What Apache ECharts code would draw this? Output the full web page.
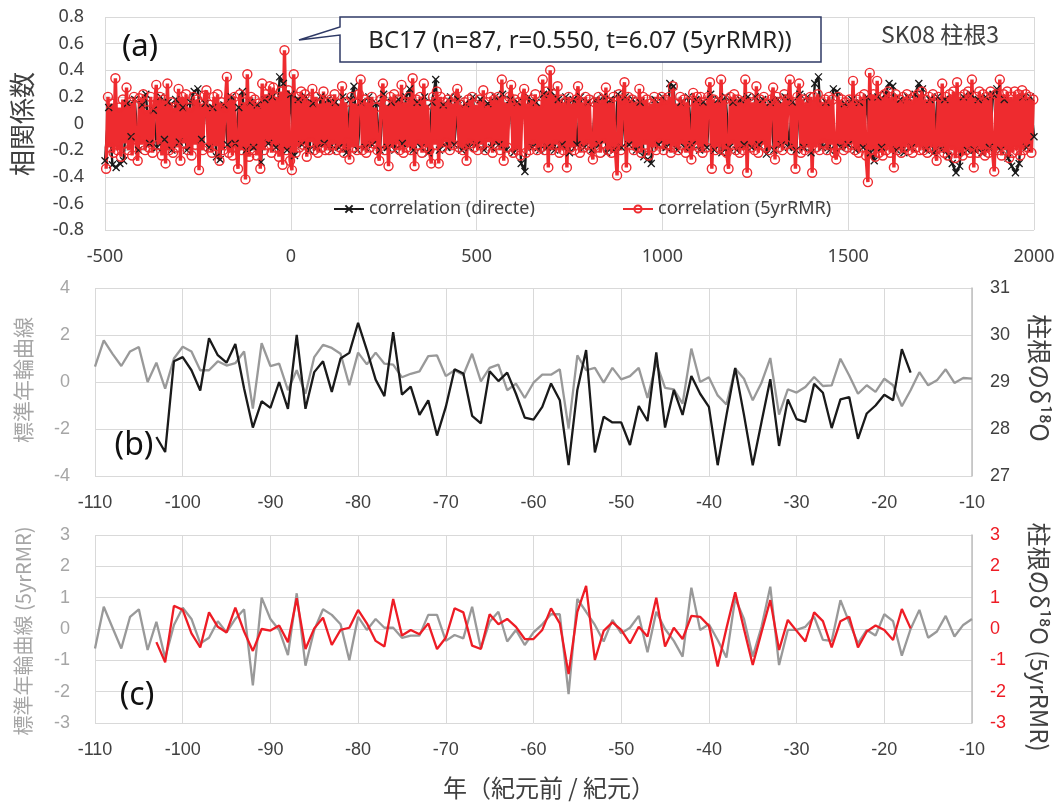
<!DOCTYPE html>
<html>
<head>
<meta charset="utf-8">
<script src="https://cdn.jsdelivr.net/npm/echarts@6/dist/echarts.min.js"></script>
<style>
  html, body { margin: 0; padding: 0; background: #fff; }
  #chart { width: 1059px; height: 805px; }
</style>
</head>
<body>
<div id="chart"></div>
<script>
// ---- (a) sliding correlation, SK08 柱根3 ----
// 5yrRMR correlation, every 5 years starting at -497
const rmrStartYear = -497;
const rmrStepYears = 5;
const corrRmr = [
  -.34, .2, -.18, .15, -.22, .34, -.2, .12, -.25, .18, -.15, .27, -.2, .16, -.24, .2, -.12, -.28, .19, -.16,   // -497 .. -402
  .22, -.2, .1, -.18, .2, -.22, .14, .29, -.16, .2, -.24, .18, -.3, .3, -.2, .16, -.22, .12, -.18, .26,        // -397 .. -302
  -.28, .2, -.15, .22, -.2, .12, -.24, .2, -.16, .18, -.35, .15, -.2, .21, .25, -.18, .14, -.22, .2, -.17,     // -297 .. -202
  .22, -.28, .16, -.2, .12, .35, -.22, .18, -.24, .2, -.18, -.34, .22, -.2, .16, -.42, .37, -.25, .2, -.2,     // -197 .. -102
  .18, -.24, .15, -.34, .3, -.2, .22, -.16, .28, -.22, .27, -.18, .2, -.25, .24, -.31, .55, -.2, .25, -.28,    // -97 .. -2
  -.35, .37, -.22, .2, -.18, .24, -.16, .22, -.25, .18, -.14, .26, -.2, .2, -.22, .15, -.18, .24, -.2, .16,    // 3 .. 98
  -.2, .18, -.16, .22, -.2, .15, -.18, .28, -.22, .16, -.14, -.27, .2, -.18, .15, -.2, .22, .33, -.2, .18,     // 103 .. 198
  -.22, .16, -.18, .2, -.15, .12, -.2, -.28, .18, .3, -.2, .14, -.32, .2, -.18, .22, -.16, .18, -.2, .29,      // 203 .. 298
  -.22, .16, -.18, .2, -.2, .34, -.32, .18, -.16, .2, -.22, .3, -.18, .14, -.2, -.3, .2, -.16, .24, -.3,       // 303 .. 398
  .2, -.18, .16, -.14, .18, -.2, .15, -.16, .2, .26, -.18, .14, -.2, .16, -.28, .18, -.15, .2, -.18, .14,      // 403 .. 498
  -.2, .18, -.16, .25, -.2, .16, -.14, .2, -.22, .18, -.16, .2, -.2, .33, -.28, .16, -.18, .2, .29, -.22,      // 503 .. 598
  .18, -.2, .16, -.24, .2, .26, -.22, .15, -.2, .18, -.16, .22, -.2, .14, -.18, .33, -.2, .24, -.33, .4,      // 603 .. 698
  -.2, .22, -.16, .28, -.22, .18, -.2, .16, -.33, .2, -.18, .15, -.2, .18, .28, -.22, .16, -.18, .2, -.16,     // 703 .. 798
  .18, -.2, -.27, .16, -.18, .2, -.22, .18, -.15, .27, -.2, .16, -.22, .2, -.18, -.39, .22, -.2, .18, .31,     // 803 .. 898
  -.33, .2, -.16, .18, -.2, .16, -.18, .26, -.22, .2, -.16, .18, -.24, .15, -.18, .2, -.2, .16, -.15, .2,      // 903 .. 998
  -.2, .18, -.16, .2, -.22, .28, -.18, .15, -.2, .2, -.16, .18, -.22, .16, -.18, -.27, .23, -.16, .2, -.18,    // 1003 .. 1098
  .2, -.22, .16, -.18, .2, .31, -.34, .18, -.2, .16, -.18, .33, -.2, .18, -.22, -.34, .2, -.16, .22, -.2,      // 1103 .. 1198
  .18, -.22, .16, -.2, .33, -.37, .2, -.18, .16, -.2, .28, -.22, .18, -.16, .2, -.18, .15, -.2, .18, .27,      // 1203 .. 1298
  -.27, .2, -.18, .16, -.2, .22, -.16, .18, .33, -.2, .16, -.34, .2, .3, -.22, .18, -.2, .16, -.18, .2,        // 1303 .. 1398
  -.37, .2, -.18, .22, -.2, .16, -.15, .18, -.2, .2, -.16, .18, -.22, -.27, .2, -.16, .18, -.2, .16, -.18,     // 1403 .. 1498
  .18, -.16, .32, -.2, .18, -.22, .2, -.18, .22, -.24, -.44, .38, -.2, .22, -.25, .32, -.22, .2, -.24, .22,    // 1503 .. 1598
  -.2, .24, -.22, .2, -.33, .22, -.2, .18, -.22, .2, -.18, .22, -.2, .18, -.22, .2, -.18, .22, -.2, .24,       // 1603 .. 1698
  -.2, .18, -.22, .2, -.18, .22, -.2, -.28, .2, -.18, .3, -.22, .2, -.24, .22, -.2, .24, -.26, .31, -.22,      // 1703 .. 1798
  .2, -.24, .22, -.2, .24, -.22, .33, -.33, .2, -.22, .24, -.2, .22, -.24, .2, -.22, .24, -.2, -.36, .22,      // 1803 .. 1898
  -.2, .33, -.24, .22, -.2, .24, -.26, .2, -.22, .24, -.2, .22, -.24, .25, -.2, .22, -.18, .2, -.22, .18       // 1903 .. 1998
];

// direct correlation, every 10 years starting at -500
const directStartYear = -500;
const directStepYears = 10;
const corrDirect = [
  -.28, .12, -.31, -.33, -.3, -.28, .15, -.1, .18, -.2, .14, .22, -.15, .1, -.18, .2, -.12, .16, -.2, .18, -.14, .12, -.2, .16, .24,   // -500 .. -260
  .26, -.12, .15, -.18, .12, -.25, -.27, .14, -.16, .2, -.15, .12, .24, -.2, .16, -.18, .14, -.29, .18, -.15, .2, -.18, .35, .3, -.2,  // -250 .. -10
  .22, -.24, .18, -.16, .2, -.2, .15, -.18, .2, -.15, .18, -.2, .16, -.18, .2, -.22, .18, .28, -.2, .16, -.18, .2, -.16, .15, -.2,      // 0 .. 240
  .22, -.18, .16, -.2, .18, -.15, .2, .26, -.2, .16, -.18, .2, -.22, .16, .33, -.2, .14, -.18, .2, -.16, .18, -.2, .15, -.18, .2,       // 250 .. 490
  -.16, .18, -.2, .15, -.18, .2, -.16, .22, -.2, .18, -.22, .16, -.3, -.36, .2, -.18, .16, -.2, .22, -.18, .24, -.2, .18, -.16, .2,     // 500 .. 740
  -.22, .18, -.16, .2, -.18, .16, -.2, .18, -.16, .2, -.22, .18, -.2, .22, -.18, .2, -.16, .18, -.2, .16, -.25, -.27, -.3, .18, -.16,  // 750 .. 990
  .2, -.18, .3, .28, -.2, .16, -.18, .2, -.16, .18, -.2, .16, -.18, .22, -.2, .18, -.22, .2, -.18, .16, -.2, .18, -.16, .2, -.18,       // 1000 .. 1240
  .2, -.16, .18, -.23, .16, -.2, .18, -.16, .2, -.18, .16, -.2, .22, -.18, .2, -.22, .3, .35, -.18, .16, -.2, .26, .24, -.18, .15,      // 1250 .. 1490
  -.16, .18, -.2, .16, -.18, .2, -.22, -.28, .2, -.18, .22, .3, .28, -.2, .18, -.22, .2, -.18, .22, .3, .26, -.2, .18, -.22, .2,        // 1500 .. 1740
  -.2, .18, -.24, -.3, -.37, -.32, .2, -.2, .22, -.2, .18, -.22, .2, -.18, .22, .26, -.2, .18, -.26, -.32, -.37, -.3, .2, -.18, .2,     // 1750 .. 1990
  -.1                                                                                                                                  // 2000
];

// ---- (b), (c) ring-width index vs. δ18O, 110 BC – 10 BC ----
const ringStartYear = -110;            // 標準年輪曲線, one value per year to -10
const isoStartYear = -103;             // 柱根のδ18O, one value per year to -17 (n = 87)

const ringStd = [
  .65, 1.77, 1.2, .68, 1.3, 1.49, 0, .82, -.28, 1.0,          // -110 .. -101
  1.5, 1.3, .5, .5, .88, .7, .8, 1.3, -1.13, 1.65,            // -100 .. -91
  .68, .78, -.35, .5, -.5, 1.06, 1.58, 1.45, 1.2, -.14,       // -90 .. -81
  1.25, .75, 1.25, .78, .74, .2, .35, .45, 1.1, 1.13,         // -80 .. -71
  .25, .5, .3, 1.2, .03, .6, .74, -.35, -.07, -.68,           // -70 .. -61
  -.03, .31, .31, .54, -1.98, 1.13, .5, .6, -.03, .6,         // -60 .. -51
  .11, .25, .6, -.68, .82, -.25, -.31, -.92, 1.42, 0,         // -50 .. -41
  .2, -.57, -.96, .57, .14, -.78, -.03, 1.02, -1.39, -.31,    // -40 .. -31
  -.45, -.21, .21, -.17, -.14, .99, .28, -.5, -.14, -.42,     // -30 .. -21
  .14, -.14, -1.03, -.35, .42, -.14, .07, .54, -.04, .17,     // -20 .. -11
  .14                                                         // -10
];

const iso18O = [
  27.83, 27.51, 29.44,                                                        // -103 .. -101
  29.53, 29.25, 28.82, 29.93, 29.57, 29.41, 29.81, 28.86, 28.03, 28.59,       // -100 .. -91
  28.45, 29.0, 28.43, 30.0, 28.43, 29.21, 29.44, 28.79, 29.5, 29.62,          // -90 .. -81
  30.26, 29.68, 29.05, 28.7, 30.06, 28.73, 28.9, 28.3, 28.61, 27.86,          // -80 .. -71
  28.47, 29.27, 29.18, 28.28, 28.12, 29.23, 29.02, 29.2, 28.75, 28.24,        // -70 .. -61
  28.2, 28.47, 28.97, 28.61, 27.23, 28.83, 29.68, 27.5, 28.26, 28.14,         // -60 .. -51
  28.14, 27.66, 28.49, 28.17, 29.63, 28.03, 28.83, 28.3, 29.13, 28.75,        // -50 .. -41
  28.47, 27.23, 28.29, 29.3, 28.3, 27.23, 28.15, 29.06, 27.64, 28.63,         // -40 .. -31
  28.21, 28.15, 28.96, 28.77, 28.02, 28.63, 28.68, 27.79, 28.33, 28.5,        // -30 .. -21
  28.73, 28.61, 29.7, 29.2                                                    // -20 .. -17
];

const ringRmr = [
  -.62, .71, .04, -.62, .39, .63, -.67, .23, -.93, .13,       // -110 .. -101
  .68, .32, -.46, -.28, .25, -.11, .32, .63, -1.8, 1.0,       // -100 .. -91
  .32, -.03, -.83, 1.14, -1.17, -.03, .63, .45, .15, -1.0,    // -90 .. -81
  .39, -.03, .32, .04, .04, -.28, -.21, -.21, .45, .45,       // -80 .. -71
  -.38, -.19, -.3, .71, -.62, .23, .55, -.4, -.03, -.51,      // -70 .. -61
  -.11, .15, .47, .47, -2.08, .96, .55, .13, -.4, .29,        // -60 .. -51
  -.14, .04, .42, -.74, .55, 0, -.38, -.88, 1.32, -.03,       // -50 .. -41
  .15, -.35, -.91, .98, .32, -.88, .07, 1.35, -1.15, -.03,    // -40 .. -31
  -.03, .07, .39, -.35, -.38, .92, .21, -.46, -.03, -.21,     // -30 .. -21
  .47, .25, -.85, 0, .61, -.28, -.08, .42, -.24, .13,         // -20 .. -11
  .32                                                         // -10
];

const iso18ORmr = [
  -.42, -1.06, .74,                                           // -103 .. -101
  .61, -.14, -.59, .53, .07, -.11, .68, -.08, -.7, 0,         // -100 .. -91
  -.05, .11, -.42, .98, -.64, .02, .36, -.51, -.03, .04,      // -90 .. -81
  .61, .18, -.38, -.56, .96, -.21, -.03, -.17, .18, -.64,     // -80 .. -71
  -.28, .66, .53, -.53, -.64, .47, .15, .32, .07, -.32,       // -70 .. -61
  -.32, -.03, .66, .18, -1.44, .55, 1.38, -.99, -.06, .21,    // -60 .. -51
  -.03, -.46, .07, -.24, 1.0, -.56, .04, -.32, .42, .39,      // -50 .. -41
  .1, -1.2, .02, 1.17, 0, -1.15, -.1, .92, -.67, .29,         // -40 .. -31
  -.06, -.4, .53, .25, -.59, .25, .39, -.59, -.08, .11,       // -30 .. -21
  -.03, -.35, .64, .02                                        // -20 .. -17
];

// caption text
const labelCallout = 'BC17 (n=87, r=0.550, t=6.07 (5yrRMR))';
const labelSite = 'SK08 柱根3';
const nameDirect = 'correlation (directe)';
const nameRmr = 'correlation (5yrRMR)';

// pair each value with its year
const withYears = (vals, start, step) => vals.map((v, i) => [start + i * step, v]);

const C_TEXT = '#404040';
const C_GRAYTXT = '#a6a6a6';
const C_GRID = '#d9d9d9';
const C_RED = '#ee2b2f';
const C_RED2 = '#ee1c25';
const C_GRAY = '#999999';
const C_BLACK = '#1a1a1a';
const F_LAT = '"Liberation Sans", Arial, sans-serif';
const F_A = '"Noto Sans", "Liberation Sans", sans-serif';
const F_JP = '"Noto Sans CJK JP", "Noto Sans", "DejaVu Sans", sans-serif';

const chart = echarts.init(document.getElementById('chart'), null, { renderer: 'canvas' });

function xAxisFor(grid, min, max, interval, font) {
  return {
    type: 'value', gridIndex: grid, min, max, interval,
    axisLine: { show: false }, axisTick: { show: false },
    splitLine: { show: true, lineStyle: { color: C_GRID, width: 1 } },
    axisLabel: { fontSize: 18, color: C_TEXT, fontFamily: font, margin: 18,
      formatter: v => String(v) }
  };
}

function yAxisFor(grid, pos, min, max, interval, color, extra) {
  return Object.assign({
    type: 'value', gridIndex: grid, position: pos, min, max, interval,
    axisLine: { show: false }, axisTick: { show: false },
    splitLine: { show: pos === 'left', lineStyle: { color: C_GRID, width: 1 } },
    axisLabel: { fontSize: 18, color, fontFamily: F_LAT, margin: pos === 'left' ? 25 : 18 }
  }, extra || {});
}

const rightAxisLine = { axisLine: { show: true, lineStyle: { color: '#bfbfbf', width: 1.5 } } };

function vText(x, y, text, size, color, rot) {
  return {
    type: 'text', x, y, rotation: rot, z: 100,
    style: { text, fontSize: size, fontFamily: F_JP, fill: color, align: 'center', verticalAlign: 'middle' }
  };
}

function tag(x, y, text, size) {
  return {
    type: 'text', x, y, z: 100,
    style: { text, fontSize: size, fontFamily: F_A, fill: '#111', align: 'center', verticalAlign: 'middle' }
  };
}

const option = {
  animation: false,
  backgroundColor: '#fff',
  grid: [
    { left: 105, top: 17, width: 929, height: 213 },
    { left: 95, top: 288, width: 877, height: 188 },
    { left: 95, top: 535, width: 877, height: 188 }
  ],
  xAxis: [
    xAxisFor(0, -500, 2000, 500, F_A),
    xAxisFor(1, -110, -10, 10, F_LAT),
    xAxisFor(2, -110, -10, 10, F_LAT)
  ],
  yAxis: [
    yAxisFor(0, 'left', -0.8, 0.8, 0.2, C_TEXT, {
      axisLabel: { fontSize: 18, color: C_TEXT, fontFamily: F_A, margin: 21,
        formatter: v => String(+v.toFixed(1)) }
    }),
    yAxisFor(1, 'left', -4, 4, 2, C_GRAYTXT),
    yAxisFor(1, 'right', 27, 31, 1, C_TEXT, rightAxisLine),
    yAxisFor(2, 'left', -3, 3, 1, C_GRAYTXT),
    yAxisFor(2, 'right', -3, 3, 1, C_RED2, rightAxisLine)
  ],
  legend: [
    {
      data: [nameDirect], left: 333, top: 200, padding: 0, itemWidth: 30, itemHeight: 9, itemGap: 0,
      textStyle: { fontSize: 18, color: C_TEXT, fontFamily: F_A }
    },
    {
      data: [nameRmr], left: 622, top: 200, padding: 0, itemWidth: 30, itemHeight: 9, itemGap: 0,
      textStyle: { fontSize: 18, color: C_TEXT, fontFamily: F_A }
    }
  ],
  series: [
    {
      name: nameDirect, type: 'line', xAxisIndex: 0, yAxisIndex: 0,
      data: withYears(corrDirect, directStartYear, directStepYears),
      symbol: 'path://M0,0L10,10M10,0L0,10', symbolSize: 7, showAllSymbol: true,
      itemStyle: { color: C_BLACK, borderColor: C_BLACK, borderWidth: 1.3 },
      lineStyle: { color: C_BLACK, width: 2.4 }
    },
    {
      name: nameRmr, type: 'line', xAxisIndex: 0, yAxisIndex: 0,
      data: withYears(corrRmr, rmrStartYear, rmrStepYears),
      symbol: 'circle', symbolSize: 9, showAllSymbol: true,
      itemStyle: { color: 'rgba(255,255,255,0)', borderColor: C_RED, borderWidth: 1.4 },
      lineStyle: { color: C_RED, width: 3.4 }
    },
    {
      name: '標準年輪曲線', type: 'line', xAxisIndex: 1, yAxisIndex: 1,
      data: withYears(ringStd, ringStartYear, 1),
      symbol: 'none', lineStyle: { color: C_GRAY, width: 2.3 }
    },
    {
      name: '柱根のδ18O', type: 'line', xAxisIndex: 1, yAxisIndex: 2,
      data: withYears(iso18O, isoStartYear, 1),
      symbol: 'none', lineStyle: { color: C_BLACK, width: 2.3 }
    },
    {
      name: '標準年輪曲線 (5yrRMR)', type: 'line', xAxisIndex: 2, yAxisIndex: 3,
      data: withYears(ringRmr, ringStartYear, 1),
      symbol: 'none', lineStyle: { color: C_GRAY, width: 2.3 }
    },
    {
      name: '柱根のδ18O (5yrRMR)', type: 'line', xAxisIndex: 2, yAxisIndex: 4,
      data: withYears(iso18ORmr, isoStartYear, 1),
      symbol: 'none', lineStyle: { color: C_RED2, width: 2.3 }
    }
  ],
  graphic: [
    // callout box with its pointer
    {
      type: 'polygon', z: 99,
      shape: { points: [[340, 27], [340, 17], [821, 17], [821, 62], [340, 62], [340, 35], [299, 40]] },
      style: { fill: '#fff', stroke: '#2f3a66', lineWidth: 1.5 }
    },
    {
      type: 'text', x: 580, y: 41, z: 100,
      style: { text: labelCallout, fontSize: 24, fontFamily: F_A, fill: '#222', align: 'center', verticalAlign: 'middle' }
    },
    {
      type: 'text', x: 940, y: 34, z: 100,
      style: { text: labelSite, fontSize: 23, fontFamily: F_JP, fill: C_TEXT, align: 'center', verticalAlign: 'middle' }
    },
    tag(140, 47, '(a)', 31),
    tag(134, 446, '(b)', 32),
    tag(137, 696, '(c)', 32),
    vText(22, 124, '相関係数', 26, C_TEXT, Math.PI / 2),
    vText(23, 380, '標準年輪曲線', 21, C_GRAYTXT, Math.PI / 2),
    vText(23, 631, '標準年輪曲線 (5yrRMR)', 20, C_GRAYTXT, Math.PI / 2),
    vText(1039, 378, '柱根のδ¹⁸O', 25, C_TEXT, -Math.PI / 2),
    vText(1039, 637, '柱根のδ¹⁸O (5yrRMR)', 24, C_TEXT, -Math.PI / 2),
    {
      type: 'text', x: 549, y: 788, z: 100,
      style: { text: '年（紀元前 / 紀元）', fontSize: 24, fontFamily: F_JP, fill: C_TEXT, align: 'center', verticalAlign: 'middle' }
    }
  ]
};

chart.setOption(option);
</script>
</body>
</html>
